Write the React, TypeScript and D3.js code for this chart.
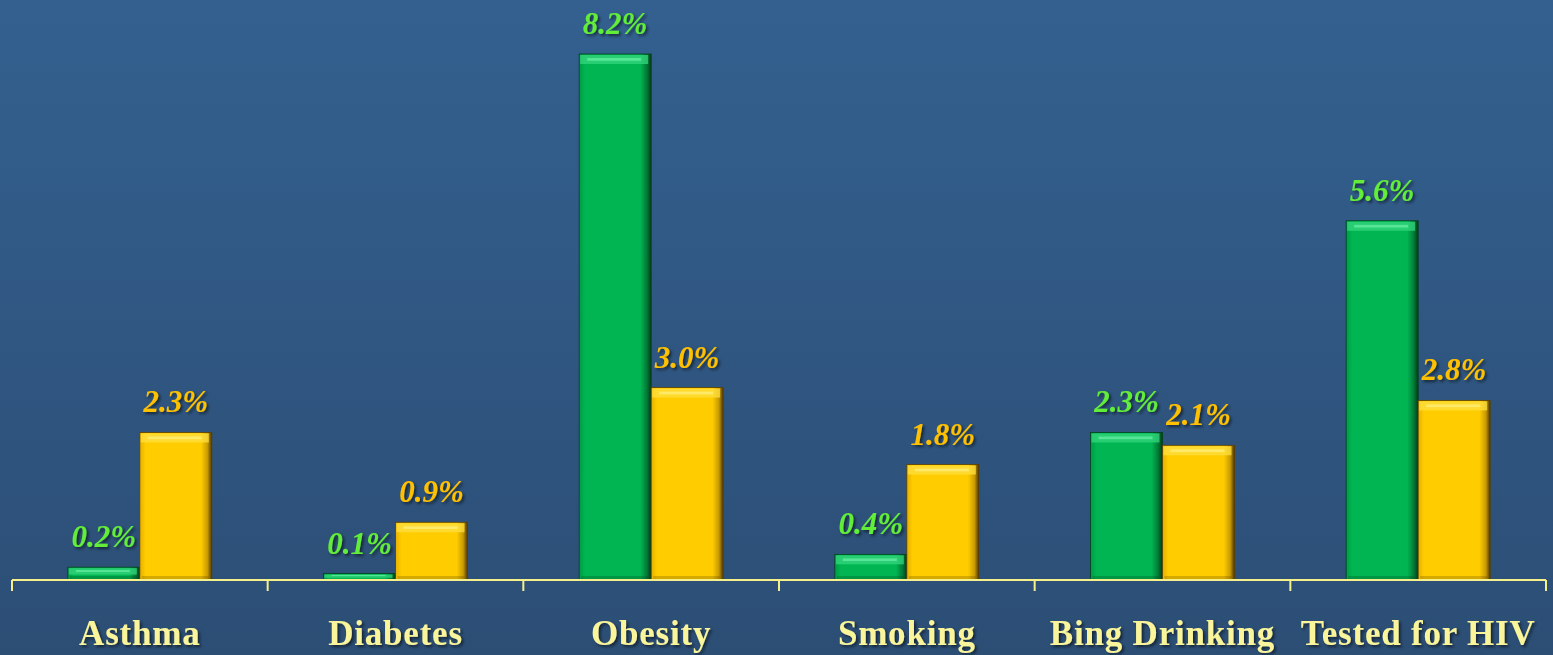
import React from "react";
import * as d3 from "d3";

const categories = ["Asthma", "Diabetes", "Obesity", "Smoking", "Bing Drinking", "Tested for HIV"];
const seriesNames = ["green", "yellow"];
const greenValues = [0.2, 0.1, 8.2, 0.4, 2.3, 5.6];
const yellowValues = [2.3, 0.9, 3.0, 1.8, 2.1, 2.8];
const valueLabelsGreen = ["0.2%", "0.1%", "8.2%", "0.4%", "2.3%", "5.6%"];
const valueLabelsYellow = ["2.3%", "0.9%", "3.0%", "1.8%", "2.1%", "2.8%"];

const W = 1553;
const H = 655;

export default function App() {
  const x = d3.scaleBand<string>().domain(categories).range([12, 1546]).paddingInner(0).paddingOuter(0);
  const pairW = 144;
  const x1 = d3.scaleBand<string>().domain(seriesNames).range([0, pairW]).padding(0);
  const y = d3.scaleLinear().domain([0, 8.2]).range([580, 54]);
  const baseY = y(0);
  const bw = x1.bandwidth();

  const series = [
    { name: "green", values: greenValues, labels: valueLabelsGreen, labelColor: "#62EE38", grad: "gGreen", top: "#36D77E", topHi: "#6BF0A6", dark: "#00401C" },
    { name: "yellow", values: yellowValues, labels: valueLabelsYellow, labelColor: "#FFC000", grad: "gYellow", top: "#FFE040", topHi: "#FFF080", dark: "#5A4000" },
  ];

  const ticks = [...categories.map((c) => x(c) as number), 1546];

  return (
    <svg width={W} height={H} style={{ position: "absolute", left: 0, top: 0, display: "block" }}>
      <defs>
        <linearGradient id="bg" x1="0" y1="0" x2="0" y2="1">
          <stop offset="0" stopColor="#33608F" />
          <stop offset="1" stopColor="#2C4E75" />
        </linearGradient>
        <linearGradient id="gGreen" x1="0" y1="0" x2="1" y2="0">
          <stop offset="0" stopColor="#009A45" />
          <stop offset="0.08" stopColor="#00B552" />
          <stop offset="0.85" stopColor="#00B552" />
          <stop offset="0.94" stopColor="#007A36" />
          <stop offset="1" stopColor="#003A18" />
        </linearGradient>
        <linearGradient id="gYellow" x1="0" y1="0" x2="1" y2="0">
          <stop offset="0" stopColor="#E6B000" />
          <stop offset="0.08" stopColor="#FFCC00" />
          <stop offset="0.85" stopColor="#FFCC00" />
          <stop offset="0.94" stopColor="#C89A00" />
          <stop offset="1" stopColor="#4A3500" />
        </linearGradient>
        <filter id="shadow" x="-20%" y="-20%" width="140%" height="160%">
          <feDropShadow dx="2" dy="2" stdDeviation="1.5" floodColor="#000" floodOpacity="0.55" />
        </filter>
      </defs>
      <rect x={0} y={0} width={W} height={H} fill="url(#bg)" />

      {categories.map((c, i) => (
        <g key={c} transform={`translate(${(x(c) as number) + (x.bandwidth() - pairW) / 2},0)`}>
          {series.map((s) => {
            const v = s.values[i];
            const top = y(v);
            const h = baseY - top;
            const bx = x1(s.name) as number;
            const bevel = Math.min(9, h / 2);
            return (
              <g key={s.name}>
                <rect x={bx} y={top} width={bw} height={h} fill={`url(#${s.grad})`} stroke={s.dark} strokeWidth={0.8} />
                <rect x={bx + 1} y={top + 1} width={bw - 4} height={bevel} fill={s.top} opacity={0.75} />
                <rect x={bx + 8} y={top + bevel * 0.45} width={bw - 18} height={Math.max(1, bevel * 0.3)} fill={s.topHi} opacity={0.7} />
                {h > 12 && (
                  <rect x={bx + 2} y={baseY - 4} width={bw - 5} height={3} fill={s.dark} opacity={0.25} />
                )}
                <text
                  x={bx + bw / 2}
                  y={top - 20}
                  textAnchor="middle"
                  fontFamily="'Liberation Serif', 'DejaVu Serif', serif"
                  fontStyle="italic"
                  fontWeight="bold"
                  fontSize={31}
                  fill={s.labelColor}
                  filter="url(#shadow)"
                >
                  {s.labels[i]}
                </text>
              </g>
            );
          })}
        </g>
      ))}

      <line x1={12} x2={1546} y1={baseY} y2={baseY} stroke="#F5F08C" strokeWidth={2} />
      {ticks.map((t, i) => (
        <line key={i} x1={t} x2={t} y1={baseY} y2={baseY + 11} stroke="#F5F08C" strokeWidth={2} />
      ))}

      {categories.map((c) => (
        <text
          key={c}
          x={(x(c) as number) + x.bandwidth() / 2}
          y={645}
          textAnchor="middle"
          fontFamily="'Liberation Serif', 'DejaVu Serif', serif"
          fontWeight="bold"
          fontSize={35}
          letterSpacing={0.8}
          fill="#FAF59A"
          filter="url(#shadow)"
        >
          {c}
        </text>
      ))}
    </svg>
  );
}
